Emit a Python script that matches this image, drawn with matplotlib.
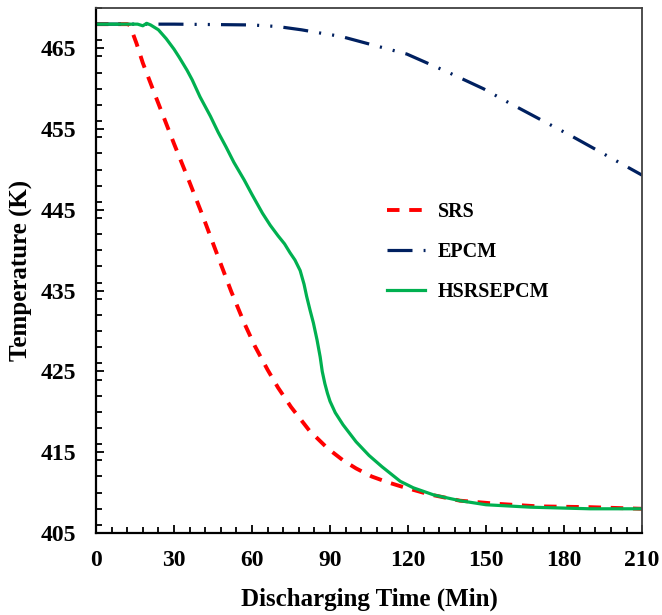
import matplotlib.pyplot as plt
from matplotlib.ticker import MultipleLocator

plt.rcParams['font.family'] = ['Liberation Serif', 'DejaVu Serif']
plt.rcParams['font.weight'] = 'bold'
plt.rcParams['lines.scale_dashes'] = False

# discharge curves (time in min, temperature in K)
srs_t = [0, 12, 13, 14, 15.6, 18, 23, 30, 36, 41, 46, 52, 57, 61, 66, 70, 75, 82,
         89, 95, 100, 106, 112, 117, 128, 140, 155, 170, 190, 210]
srs_T = [468, 468, 467.9, 467.0, 465.6, 463.2, 459.0, 453.2, 448.4, 444.3, 440.0,
         434.9, 431.0, 428.2, 425.2, 423.0, 420.6, 417.7, 415.5, 414.0, 413.0,
         412.0, 411.3, 410.8, 409.8, 409.0, 408.6, 408.3, 408.2, 408.0]

epcm_t = [0, 30, 60, 70, 79, 88, 94, 109, 119.5, 135, 149, 158, 172, 182, 196, 210]
epcm_T = [468, 468, 467.9, 467.7, 467.3, 466.8, 466.5, 465.2, 464.3, 462.1, 460.0,
          458.4, 456.0, 454.3, 451.8, 449.3]

hyb_t = [0, 16, 18, 19.5, 21, 24, 27, 30, 32, 35, 37, 40, 44, 47, 50, 53, 57, 60,
         64, 67, 70, 72.5, 74.6, 76.5, 78.5, 80, 81, 82.3, 83.6, 85, 86.2, 87, 88,
         89, 90, 92, 95, 100, 105, 110, 117, 122, 130, 140, 150, 167, 190, 210]
hyb_T = [468, 468, 467.8, 468.1, 467.9, 467.3, 466.2, 464.9, 463.9, 462.3, 461.1,
         459.0, 456.6, 454.6, 452.8, 450.9, 448.7, 446.9, 444.6, 443.1, 441.8, 440.8,
         439.7, 438.8, 437.5, 435.8, 434.3, 432.6, 431.0, 428.9, 426.8, 425.0, 423.5,
         422.3, 421.3, 419.9, 418.4, 416.3, 414.6, 413.2, 411.4, 410.6, 409.7, 409.0,
         408.5, 408.2, 408.0, 408.0]

fig = plt.figure(figsize=(6.62, 6.15), dpi=100)
ax = fig.add_axes([0.145, 0.1333, 0.825, 0.8537])

ax.plot(srs_t, srs_T, color='#FF0000', linewidth=2.8, linestyle=(0, (9, 7)),
        label='SRS')
ax.plot(epcm_t, epcm_T, color='#002060', linewidth=2.3,
        linestyle=(0, (18, 8, 1.5, 8, 1.5, 8)), label='EPCM')
ax.plot(hyb_t, hyb_T, color='#00B050', linewidth=2.3, label='HSRSEPCM')

ax.set_xlim(0, 210)
ax.set_ylim(405, 470)
ax.set_xticks(range(0, 211, 30))
ax.set_yticks(range(405, 466, 10))
ax.xaxis.set_minor_locator(MultipleLocator(6))
ax.yaxis.set_minor_locator(MultipleLocator(2))
ax.tick_params(which='both', direction='in', top=False, right=False,
               width=1.3, labelsize=17)
ax.tick_params(axis='y', which='major', length=6, pad=14)
ax.tick_params(axis='x', which='major', length=6, pad=12)
ax.tick_params(which='minor', length=4)

for side in ['left', 'bottom']:
    ax.spines[side].set_linewidth(1.6)
    ax.spines[side].set_color('black')
for side in ['top', 'right']:
    ax.spines[side].set_linewidth(1.3)
    ax.spines[side].set_color('#404040')

ax.set_xlabel('Discharging Time (Min)', fontsize=18, fontweight='bold', labelpad=12)
ax.set_ylabel('Temperature (K)', fontsize=18, fontweight='bold', labelpad=6)

ax.legend(loc='upper left', bbox_to_anchor=(0.50, 0.665), frameon=False,
          fontsize=14.5, handlelength=1.9, handletextpad=0.6, labelspacing=1.0)

plt.savefig('out.png', dpi=100)
